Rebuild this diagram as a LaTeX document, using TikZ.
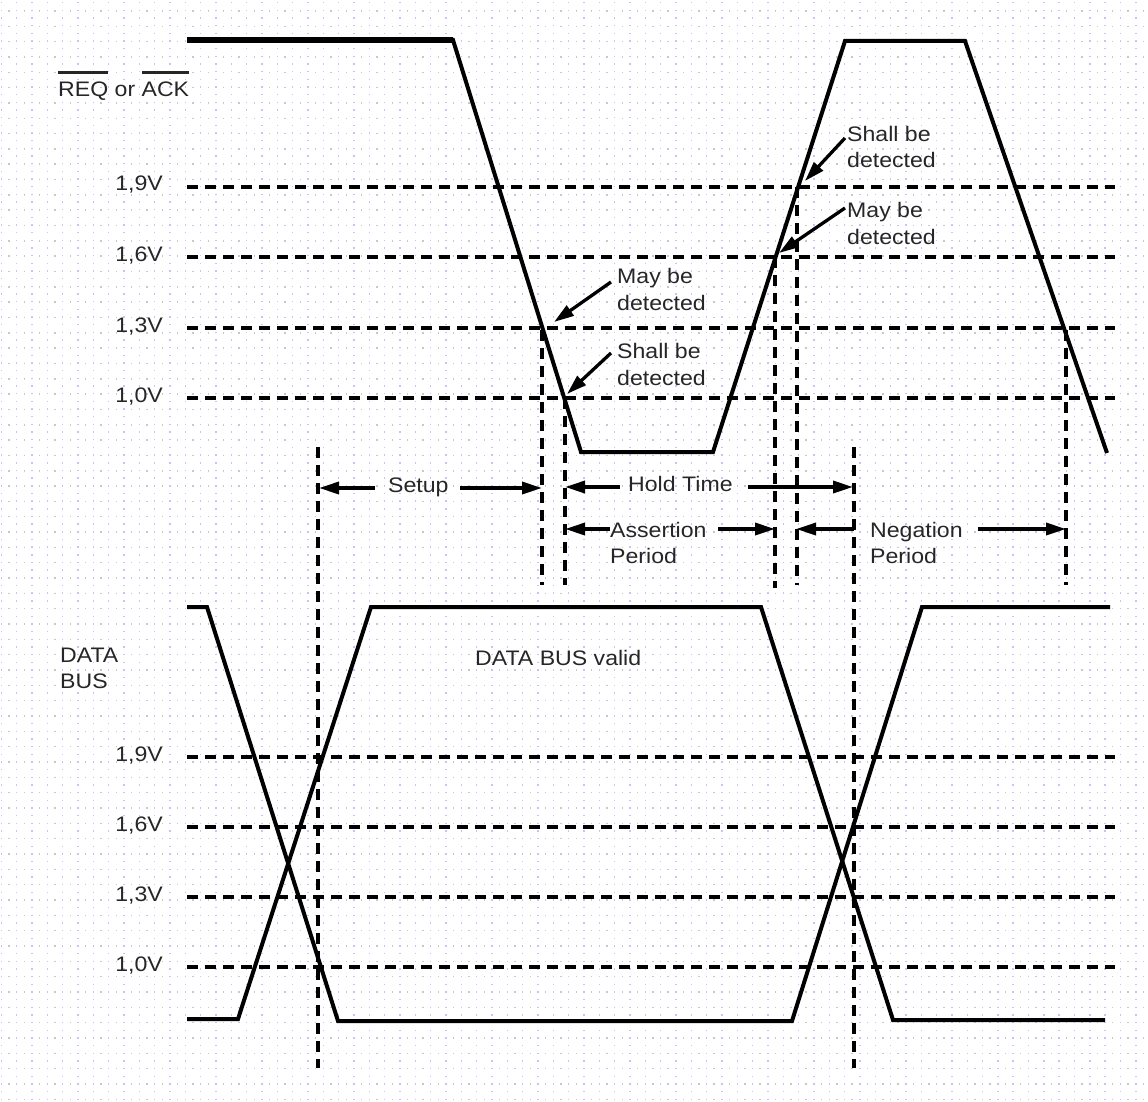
\documentclass[tikz,border=0pt]{standalone}
\usepackage{fontspec}
\setmainfont{Liberation Sans}[FakeStretch=1.1]
\usetikzlibrary{arrows.meta}
\definecolor{txt}{HTML}{262626}
\definecolor{dotblue}{RGB}{195,195,255}
\definecolor{dotgray}{RGB}{200,200,200}
\newlength\ovllen
\newcommand\ovltext[1]{\settowidth{\ovllen}{#1}\rlap{\rule[22.6pt]{\ovllen}{3pt}}#1}
\begin{document}
\begin{tikzpicture}[x=1pt,y=-1pt,
  sig/.style={line width=4pt},
  lvl/.style={line width=3.6pt, dash pattern=on 11pt off 7pt},
  vmark/.style={line width=3.6pt, dash pattern=on 11pt off 7pt},
  txtlab/.style={font=\fontsize{21}{26}\selectfont, text=txt, inner sep=0pt},
  dimarrow/.style={line width=3.3pt, -{Triangle[length=20pt,width=12pt]}},
]
\useasboundingbox (0,0) rectangle (1148,1102);
\fill[white] (0,0) rectangle (1148,1102);
% dotted background grid
\foreach \i in {0,...,74} {
  \draw[dotblue, line width=1.4pt, dash pattern=on 1.4pt off 6.27pt] ({1.4+15.33*\i},1.9) -- ({1.4+15.33*\i},1102);
  \draw[dotgray, line width=1.4pt, dash pattern=on 1.4pt off 13.93pt] ({9+15.33*\i},10.2) -- ({9+15.33*\i},1102);
}

% ---------- REQ / ACK section ----------
\node[txtlab, anchor=base west] (reqack) at (58,97) {\ovltext{REQ} or \ovltext{ACK}};
\node[txtlab, anchor=base east] (t19) at (163,191) {1,9V};
\node[txtlab, anchor=base east] (t16) at (163,261) {1,6V};
\node[txtlab, anchor=base east] (t13) at (163,332) {1,3V};
\node[txtlab, anchor=base east] (t10) at (163,402) {1,0V};
\draw[lvl] (187,187) -- (1115,187);
\draw[lvl] (187,257) -- (1115,257);
\draw[lvl] (187,328) -- (1115,328);
\draw[lvl] (187,398) -- (1115,398);

% vertical markers
\draw[vmark] (318,447) -- (318,1068);
\draw[vmark] (854,447) -- (854,1068);
\draw[vmark] (542,330) -- (542,585);
\draw[vmark] (565,398) -- (565,585);
\draw[vmark] (775,257) -- (775,588);
\draw[vmark] (797,187) -- (797,585);
\draw[vmark] (1066,330) -- (1066,585);

% REQ/ACK waveform
\draw[sig] (187,40) -- (453,40) -- (581,452) -- (713,452) -- (845,41) -- (965,41) -- (1107,453);
\draw[line width=5.2pt] (187,40) -- (453,40);

% detection labels
\node[txtlab, anchor=base west] (sb1a) at (847,142) {Shall be};
\node[txtlab, anchor=base west] (sb1b) at (847,168) {detected};
\node[txtlab, anchor=base west] (mb1a) at (847,218) {May be};
\node[txtlab, anchor=base west] (mb1b) at (847,244) {detected};
\node[txtlab, anchor=base west] (mb2a) at (617,283) {May be};
\node[txtlab, anchor=base west] (mb2b) at (617,310) {detected};
\node[txtlab, anchor=base west] (sb2a) at (617,358) {Shall be};
\node[txtlab, anchor=base west] (sb2b) at (617,385) {detected};

\coordinate (sb1s) at (845,138); \coordinate (sb1t) at (805,181);
\coordinate (mb1s) at (845,208); \coordinate (mb1t) at (779,253);
\coordinate (mb2s) at (611,282); \coordinate (mb2t) at (554,322);
\coordinate (sb2s) at (611,353); \coordinate (sb2t) at (567,394);
\draw[dimarrow] (sb1s) -- (sb1t);
\draw[dimarrow] (mb1s) -- (mb1t);
\draw[dimarrow] (mb2s) -- (mb2t);
\draw[dimarrow] (sb2s) -- (sb2t);

% timing dimension labels
\node[txtlab, anchor=base west] (setup) at (388,492) {Setup};
\coordinate (setupLs) at (375,488); \coordinate (setupLt) at (319,488);
\coordinate (setupRs) at (460,488); \coordinate (setupRt) at (542,488);
\draw[dimarrow] (setupLs) -- (setupLt);
\draw[dimarrow] (setupRs) -- (setupRt);

\node[txtlab, anchor=base west] (hold) at (628,491) {Hold Time};
\coordinate (holdLs) at (620,487); \coordinate (holdLt) at (565,487);
\coordinate (holdRs) at (748,487); \coordinate (holdRt) at (853,487);
\draw[dimarrow] (holdLs) -- (holdLt);
\draw[dimarrow] (holdRs) -- (holdRt);

\node[txtlab, anchor=base west] (asrt1) at (610,537) {Assertion};
\node[txtlab, anchor=base west] (asrt2) at (610,563) {Period};
\coordinate (asLs) at (610,529); \coordinate (asLt) at (565,529);
\coordinate (asRs) at (718,529); \coordinate (asRt) at (775,529);
\draw[dimarrow] (asLs) -- (asLt);
\draw[dimarrow] (asRs) -- (asRt);

\node[txtlab, anchor=base west] (neg1) at (870,537) {Negation};
\node[txtlab, anchor=base west] (neg2) at (870,563) {Period};
\coordinate (ngLs) at (854,529); \coordinate (ngLt) at (796,529);
\coordinate (ngRs) at (978,529); \coordinate (ngRt) at (1066,529);
\draw[dimarrow] (ngLs) -- (ngLt);
\draw[dimarrow] (ngRs) -- (ngRt);

% ---------- DATA BUS section ----------
\node[txtlab, anchor=base west] (db1) at (60,662) {DATA};
\node[txtlab, anchor=base west] (db2) at (60,688) {BUS};
\node[txtlab, anchor=base west] (valid) at (475,665) {DATA BUS valid};
\node[txtlab, anchor=base east] (b19) at (163,761) {1,9V};
\node[txtlab, anchor=base east] (b16) at (163,831) {1,6V};
\node[txtlab, anchor=base east] (b13) at (163,901) {1,3V};
\node[txtlab, anchor=base east] (b10) at (163,971) {1,0V};
\draw[lvl] (187,757) -- (1115,757);
\draw[lvl] (187,827) -- (1115,827);
\draw[lvl] (187,897) -- (1115,897);
\draw[lvl] (187,967) -- (1115,967);

\draw[sig] (187,607) -- (207,607) -- (338,1021) -- (792,1021) -- (922,607) -- (1110,607);
\draw[sig] (187,1019) -- (238,1019) -- (371,607) -- (761,607) -- (893,1020) -- (1105,1020);
\end{tikzpicture}
\end{document}
